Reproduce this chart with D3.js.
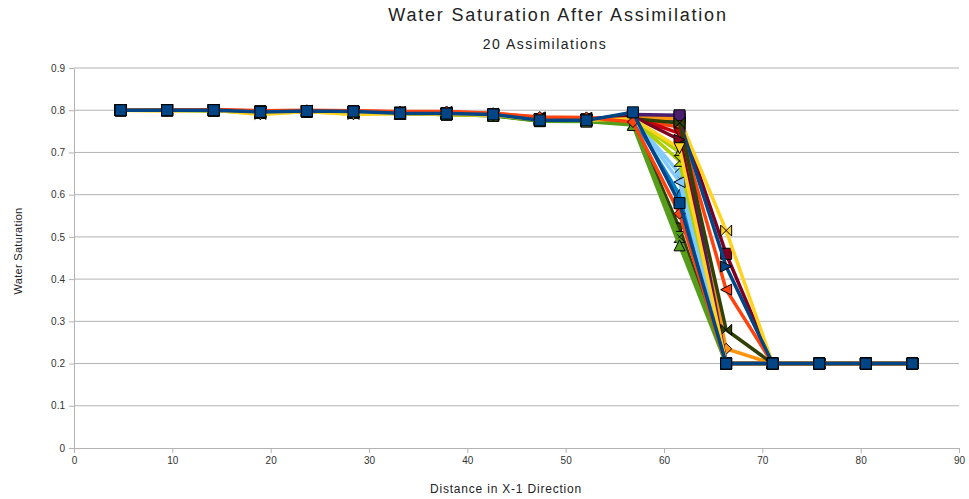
<!DOCTYPE html>
<html>
<head>
<meta charset="utf-8">
<script src="https://cdn.jsdelivr.net/npm/d3@7"></script>
<style>
  body { margin: 0; background: #fff; }
  text { font-family: "Liberation Sans", Arial, sans-serif; }
</style>
</head>
<body>
<div id="chart"></div>
<script>
var svgWidth = 969;
var svgHeight = 499;

var margin = { top: 68, right: 10, bottom: 51, left: 74 };
var width = 959 - margin.left;
var height = 448 - margin.top;

// distance of each grid block
var xValues = [4.74, 9.47, 14.21, 18.95, 23.68, 28.42, 33.16, 37.89, 42.63,
  47.37, 52.11, 56.84, 61.58, 66.32, 71.05, 75.79, 80.53, 85.26];

var xTicks = [0, 10, 20, 30, 40, 50, 60, 70, 80, 90];
var yTicks = [0, 0.1, 0.2, 0.3, 0.4, 0.5, 0.6, 0.7, 0.8, 0.9];

// water saturation, one row per assimilation
var runs = [
  [0.800, 0.800, 0.800, 0.796, 0.798, 0.797, 0.793, 0.792, 0.790, 0.776, 0.776, 0.795, 0.580, 0.200, 0.200, 0.200, 0.200, 0.200],
  [0.800, 0.800, 0.801, 0.799, 0.800, 0.799, 0.797, 0.797, 0.793, 0.784, 0.783, 0.772, 0.555, 0.200, 0.200, 0.200, 0.200, 0.200],
  [0.800, 0.799, 0.800, 0.790, 0.797, 0.790, 0.792, 0.790, 0.788, 0.778, 0.776, 0.780, 0.710, 0.200, 0.200, 0.200, 0.200, 0.200],
  [0.800, 0.800, 0.799, 0.795, 0.797, 0.795, 0.792, 0.790, 0.787, 0.774, 0.773, 0.765, 0.480, 0.200, 0.200, 0.200, 0.200, 0.200],
  [0.800, 0.800, 0.800, 0.797, 0.798, 0.797, 0.794, 0.793, 0.790, 0.779, 0.778, 0.785, 0.730, 0.200, 0.200, 0.200, 0.200, 0.200],
  [0.800, 0.800, 0.800, 0.796, 0.797, 0.796, 0.793, 0.791, 0.789, 0.777, 0.776, 0.782, 0.630, 0.200, 0.200, 0.200, 0.200, 0.200],
  [0.800, 0.800, 0.800, 0.795, 0.797, 0.795, 0.792, 0.791, 0.788, 0.776, 0.775, 0.780, 0.770, 0.280, 0.200, 0.200, 0.200, 0.200],
  [0.800, 0.800, 0.800, 0.794, 0.797, 0.794, 0.792, 0.790, 0.788, 0.777, 0.776, 0.778, 0.680, 0.200, 0.200, 0.200, 0.200, 0.200],
  [0.800, 0.800, 0.800, 0.797, 0.798, 0.797, 0.794, 0.793, 0.790, 0.778, 0.778, 0.790, 0.788, 0.200, 0.200, 0.200, 0.200, 0.200],
  [0.800, 0.800, 0.800, 0.796, 0.798, 0.796, 0.793, 0.792, 0.789, 0.780, 0.779, 0.783, 0.780, 0.235, 0.200, 0.200, 0.200, 0.200],
  [0.800, 0.800, 0.800, 0.797, 0.798, 0.797, 0.794, 0.793, 0.790, 0.779, 0.778, 0.784, 0.745, 0.200, 0.200, 0.200, 0.200, 0.200],
  [0.800, 0.800, 0.800, 0.796, 0.797, 0.796, 0.793, 0.791, 0.789, 0.776, 0.775, 0.781, 0.600, 0.200, 0.200, 0.200, 0.200, 0.200],
  [0.800, 0.800, 0.800, 0.796, 0.798, 0.796, 0.793, 0.792, 0.789, 0.777, 0.776, 0.786, 0.775, 0.430, 0.200, 0.200, 0.200, 0.200],
  [0.800, 0.800, 0.801, 0.798, 0.799, 0.798, 0.796, 0.796, 0.792, 0.783, 0.782, 0.778, 0.760, 0.375, 0.200, 0.200, 0.200, 0.200],
  [0.800, 0.799, 0.800, 0.791, 0.797, 0.791, 0.792, 0.790, 0.788, 0.778, 0.777, 0.782, 0.780, 0.515, 0.200, 0.200, 0.200, 0.200],
  [0.800, 0.800, 0.799, 0.795, 0.797, 0.795, 0.792, 0.790, 0.787, 0.775, 0.774, 0.768, 0.500, 0.200, 0.200, 0.200, 0.200, 0.200],
  [0.800, 0.800, 0.800, 0.797, 0.798, 0.797, 0.794, 0.793, 0.790, 0.779, 0.778, 0.787, 0.785, 0.460, 0.200, 0.200, 0.200, 0.200],
  [0.800, 0.800, 0.800, 0.796, 0.797, 0.796, 0.793, 0.791, 0.789, 0.777, 0.776, 0.781, 0.650, 0.200, 0.200, 0.200, 0.200, 0.200],
  [0.800, 0.800, 0.800, 0.795, 0.797, 0.795, 0.792, 0.791, 0.788, 0.776, 0.775, 0.776, 0.520, 0.200, 0.200, 0.200, 0.200, 0.200],
  [0.800, 0.800, 0.800, 0.794, 0.797, 0.794, 0.792, 0.790, 0.788, 0.777, 0.776, 0.779, 0.700, 0.200, 0.200, 0.200, 0.200, 0.200]
];

var palette = ["#004586", "#ff420e", "#ffd320", "#579d1c", "#7e0021", "#83caff",
  "#314004", "#aecf00", "#4b1f6f", "#ff950e", "#c5000b", "#0084d1"];
var symbolNames = ["square", "diamond", "down", "up", "right", "left", "bowtie", "hourglass"];

var svg = d3.select("#chart")
  .append("svg")
  .attr("width", svgWidth)
  .attr("height", svgHeight);

var chartGroup = svg.append("g")
  .attr("transform", `translate(${margin.left}, ${margin.top})`);

var xScale = d3.scaleLinear().domain([0, 90]).range([0, width]);
var yScale = d3.scaleLinear().domain([0, 0.9]).range([height, 0]);

// horizontal grid
chartGroup.selectAll(".grid")
  .data(yTicks.slice(1))
  .enter()
  .append("line")
  .attr("x1", 0)
  .attr("x2", width)
  .attr("y1", d => yScale(d))
  .attr("y2", d => yScale(d))
  .attr("stroke", "#b3b3b3")
  .attr("stroke-width", 1);

var xAxis = chartGroup.append("g")
  .attr("transform", `translate(0, ${height})`)
  .call(d3.axisBottom(xScale).tickValues(xTicks).tickSize(5).tickSizeOuter(0).tickPadding(4));

var yAxis = chartGroup.append("g")
  .call(d3.axisLeft(yScale).tickValues(yTicks).tickSize(5).tickSizeOuter(0).tickPadding(4)
    .tickFormat(d => d === 0 ? "0" : d3.format(".1f")(d)));

[xAxis, yAxis].forEach(function(ax) {
  ax.select(".domain").attr("stroke", "#b3b3b3");
  ax.selectAll(".tick line").attr("stroke", "#b3b3b3");
  ax.selectAll(".tick text")
    .attr("fill", "#333")
    .style("font-family", "Liberation Sans, Arial, sans-serif")
    .style("font-size", "10px");
});

function markerPath(name) {
  var r = 5.5;
  switch (name) {
    case "square": return `M${-r},${-r}H${r}V${r}H${-r}Z`;
    case "diamond": return `M0,${-r}L${r},0L0,${r}L${-r},0Z`;
    case "down": return `M${-r},${-r}H${r}L0,${r}Z`;
    case "up": return `M${-r},${r}H${r}L0,${-r}Z`;
    case "right": return `M${-r},${-r}L${r},0L${-r},${r}Z`;
    case "left": return `M${r},${-r}L${-r},0L${r},${r}Z`;
    case "bowtie": return `M${-r},${-r}L${r},${r}V${-r}L${-r},${r}Z`;
    case "hourglass": return `M${-r},${-r}H${r}L${-r},${r}H${r}Z`;
  }
}

var line = d3.line()
  .x((d, i) => xScale(xValues[i]))
  .y(d => yScale(d));

var seriesData = runs.map((vals, i) => ({ vals: vals, idx: i }));

// first run ends up on top
var seriesGroup = chartGroup.selectAll(".series")
  .data(seriesData.slice().reverse())
  .enter()
  .append("g")
  .attr("class", "series");

seriesGroup.append("path")
  .attr("d", d => line(d.vals))
  .attr("fill", "none")
  .attr("stroke", d => palette[d.idx % 12])
  .attr("stroke-width", 3.5)
  .attr("stroke-linejoin", "round");

seriesGroup.each(function(s) {
  d3.select(this).selectAll(".marker")
    .data(s.vals)
    .enter()
    .append("path")
    .attr("class", "marker")
    .attr("transform", (d, i) => `translate(${xScale(xValues[i])}, ${yScale(d)})`)
    .attr("d", markerPath(symbolNames[s.idx % 8]))
    .attr("fill", palette[s.idx % 12])
    .attr("stroke", "#000")
    .attr("stroke-width", 1)
    .attr("stroke-linejoin", "round");
});

svg.append("text")
  .attr("x", 558)
  .attr("y", 21)
  .attr("text-anchor", "middle")
  .attr("font-size", "18px")
  .attr("letter-spacing", "1.8px")
  .attr("fill", "#222")
  .text("Water Saturation After Assimilation");

svg.append("text")
  .attr("x", 545)
  .attr("y", 49)
  .attr("text-anchor", "middle")
  .attr("font-size", "14px")
  .attr("letter-spacing", "1.5px")
  .attr("fill", "#222")
  .text("20 Assimilations");

svg.append("text")
  .attr("x", 506)
  .attr("y", 493)
  .attr("text-anchor", "middle")
  .attr("font-size", "12px")
  .attr("letter-spacing", "0.8px")
  .attr("fill", "#222")
  .text("Distance in X-1 Direction");

svg.append("text")
  .attr("transform", "rotate(-90)")
  .attr("x", -251)
  .attr("y", 22)
  .attr("text-anchor", "middle")
  .attr("font-size", "11px")
  .attr("letter-spacing", "0.3px")
  .attr("fill", "#222")
  .text("Water Saturation");
</script>
</body>
</html>
